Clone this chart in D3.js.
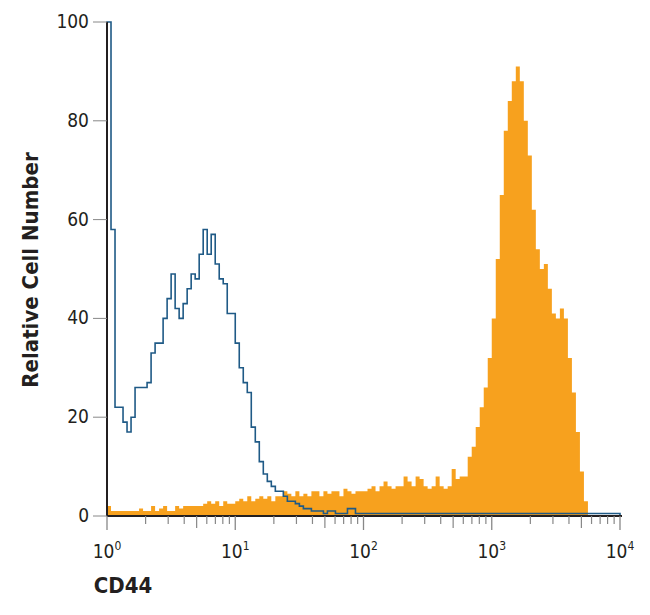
<!DOCTYPE html><html><head><script src="https://cdn.jsdelivr.net/npm/d3@7"></script>
<style>body{margin:0;background:#fff}text{font-family:"DejaVu Sans Condensed","Liberation Sans Narrow",sans-serif;font-stretch:condensed;fill:#231f20}</style></head><body><svg id="c" width="650" height="615"></svg><script>
const binsPerDecade = 32;
const isotype = [100,58,22,22,19,17,20,26,26,26,27,33,35,35,40,44,49,42,40,43,46,49,48,53,58,53,57,51,48,47,41,41,
35,30,27,25,18,15,11,8.5,7,6,5,5,4,3,3,2.5,2,1.5,1.5,1,1,1,0.5,1,1,0.5,0.5,0.5,1.5,1.5,0.5,0.5]
  .concat(new Array(64).fill(0.5));
const cd44 = [2,1,1,1,1,1,1,1,1.5,1,1,2,1,1.5,2,1,1,2,1.5,2,2,2,2,2,2.5,3,2.5,3,2,3,2.5,2.5,
3,3.5,3,4,3,3.5,4,3.5,4,3,4,4,5,4.5,4,5,4,4.5,4,5,5,4,5,4.5,5,5,4,5.5,5,4.5,5,5,
5,5.5,6,5,6,7,6,5.5,6,6,8,7,6,8,7.5,6,5.5,6,8,6,5.5,6,9.5,7.5,8,8,
12,14,18,22,26,32,40,52,65,78,84,88,91,88,80,73,62,54,50,51,46,41,40,42,40,32,25,17,9,3,0,0,0,0,0,0,0,0];
const yTicks = [0,20,40,60,80,100];
const xMajor = [0,1,2,3,4];
const svg = d3.select("#c");
const x = d3.scaleLog().domain([1,1e4]).range([107,620]);
const y = d3.scaleLinear().domain([0,100]).range([516,22]);
const edge = i => Math.pow(10, i/binsPerDecade);
function stepPts(arr){const p=[];arr.forEach((v,i)=>{p.push([x(edge(i)),y(v)]);p.push([x(edge(i+1)),y(v)]);});return p;}
const op = stepPts(cd44);
svg.append("path").attr("d", d3.line()([[x(1),y(0)],...op,[x(1e4),y(0)]])+"Z").attr("fill","#f7a11e");
const bp = stepPts(isotype);
svg.append("path").attr("d", d3.line()([[x(1),y(0)],...bp,[x(1e4),y(0)]])).attr("fill","none").attr("stroke","#1f5a86").attr("stroke-width",1.6);
const g = svg.append("g").attr("stroke","#231f20");
g.append("line").attr("x1",107).attr("x2",107).attr("y1",y(100)).attr("y2",516).attr("stroke-width",2);
g.append("line").attr("x1",107).attr("x2",622).attr("y1",516).attr("y2",516).attr("stroke-width",2);
yTicks.forEach(t=>{g.append("line").attr("x1",93).attr("x2",107).attr("y1",y(t)).attr("y2",y(t)).attr("stroke","#888").attr("stroke-width",1);
 svg.append("text").attr("x",89).attr("y",y(t)+6).attr("text-anchor","end").attr("font-size",19).text(t);});
xMajor.forEach(e=>{
 g.append("line").attr("x1",x(10**e)).attr("x2",x(10**e)).attr("y1",516).attr("y2",530).attr("stroke","#888").attr("stroke-width",1.3);
 const t=svg.append("text").attr("x",x(10**e)).attr("y",558).attr("text-anchor","middle").attr("font-size",19);
 t.append("tspan").text("10"); t.append("tspan").attr("dy",-8).attr("font-size",12).text(e);
 if(e<4) for(let m=2;m<10;m++){const xv=x(m*10**e);g.append("line").attr("x1",xv).attr("x2",xv).attr("y1",516).attr("y2",m==5?528:524).attr("stroke","#888").attr("stroke-width",1.2);}
});
svg.append("text").attr("x",123).attr("y",593).attr("text-anchor","middle").attr("font-size",22).attr("font-weight","bold").text("CD44");
svg.append("text").attr("transform","translate(38,270) rotate(-90)").attr("text-anchor","middle").attr("font-size",22).attr("font-weight","bold").text("Relative Cell Number");
</script></body></html>
